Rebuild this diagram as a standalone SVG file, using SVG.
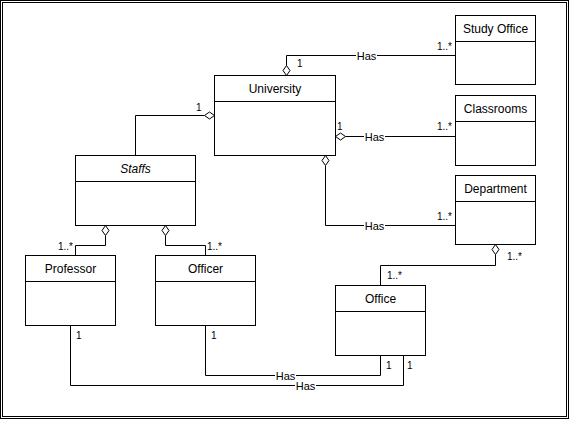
<svg xmlns="http://www.w3.org/2000/svg" width="571" height="421" viewBox="0 0 571 421">
<style>
.cls{fill:#fff;stroke:#000;stroke-width:1}
.hd{stroke:#000;stroke-width:1}
.name{font-family:"Liberation Sans",Arial,sans-serif;font-size:12px;fill:#000;text-anchor:middle}
.edge{fill:none;stroke:#000;stroke-width:1}
.dia{fill:#fff;stroke:#000;stroke-width:1}
.lbl{font-family:"Liberation Sans",Arial,sans-serif;font-size:11px;fill:#000;text-anchor:middle}
.m{font-family:"Liberation Sans",Arial,sans-serif;font-size:10px;fill:#000}
.bg{fill:#fff}
</style>
<rect x="0" y="0" width="571" height="421" fill="#fff"/>
<rect x="0.5" y="0.5" width="568" height="418" fill="none" stroke="#000"/>
<rect x="2.5" y="2.5" width="564" height="414" fill="none" stroke="#000"/>

<g id="connectors">
  <!-- University - Study Office -->
  <path class="edge" d="M286.5,65.5 V55.5 H455.5"/>
  <path class="dia" d="M286.5,75.5 L290,70.5 L286.5,65.5 L283,70.5 Z"/>
  <rect class="bg" x="356" y="50" width="21" height="11"/>
  <text class="lbl" x="366.5" y="59.5">Has</text>
  <text class="m" x="297" y="67">1</text>
  <text class="m" x="452" y="50" text-anchor="end">1..*</text>

  <!-- University - Classrooms -->
  <path class="edge" d="M345.5,136.5 H455.5"/>
  <path class="dia" d="M335.5,136.5 L340.5,133 L345.5,136.5 L340.5,140 Z"/>
  <rect class="bg" x="364" y="131" width="21" height="11"/>
  <text class="lbl" x="374.5" y="140.5">Has</text>
  <text class="m" x="337" y="130">1</text>
  <text class="m" x="452" y="130" text-anchor="end">1..*</text>

  <!-- University - Department -->
  <path class="edge" d="M325.5,165.5 V225.5 H455.5"/>
  <path class="dia" d="M325.5,155.5 L329,160.5 L325.5,165.5 L322,160.5 Z"/>
  <rect class="bg" x="364" y="220" width="21" height="11"/>
  <text class="lbl" x="374.5" y="229.5">Has</text>
  <text class="m" x="452" y="220" text-anchor="end">1..*</text>

  <!-- University - Staffs -->
  <path class="edge" d="M204.5,115.5 H135.5 V155.5"/>
  <path class="dia" d="M214.5,115.5 L209.5,112 L204.5,115.5 L209.5,119 Z"/>
  <text class="m" x="196" y="111">1</text>

  <!-- Department - Office -->
  <path class="edge" d="M495.5,254.5 V265.5 H380.5 V285.5"/>
  <path class="dia" d="M495.5,244.5 L499,249.5 L495.5,254.5 L492,249.5 Z"/>
  <text class="m" x="507" y="260">1..*</text>
  <text class="m" x="387" y="279">1..*</text>

  <!-- Staffs - Professor -->
  <path class="edge" d="M105.5,235.5 V245.5 H75.5 V255.5"/>
  <path class="dia" d="M105.5,225.5 L109,230.5 L105.5,235.5 L102,230.5 Z"/>
  <text class="m" x="73" y="250" text-anchor="end">1..*</text>

  <!-- Staffs - Officer -->
  <path class="edge" d="M165.5,235.5 V245.5 H205.5 V255.5"/>
  <path class="dia" d="M165.5,225.5 L169,230.5 L165.5,235.5 L162,230.5 Z"/>
  <text class="m" x="207" y="250">1..*</text>

  <!-- Professor - Office -->
  <path class="edge" d="M70.5,325.5 V385.5 H403.5 V355.5"/>
  <rect class="bg" x="295" y="380" width="21" height="11"/>
  <text class="lbl" x="305.5" y="389.5">Has</text>
  <text class="m" x="76" y="339">1</text>
  <text class="m" x="407" y="369">1</text>

  <!-- Officer - Office -->
  <path class="edge" d="M205.5,325.5 V375.5 H380.5 V355.5"/>
  <rect class="bg" x="275" y="370" width="21" height="11"/>
  <text class="lbl" x="285.5" y="379.5">Has</text>
  <text class="m" x="211" y="339">1</text>
  <text class="m" x="386" y="369">1</text>
</g>

<g id="university">
  <rect class="cls" x="214.5" y="75.5" width="121" height="80"/>
  <line class="hd" x1="214.5" y1="101.5" x2="335.5" y2="101.5"/>
  <text class="name" x="275" y="93">University</text>
</g>
<g id="study-office">
  <rect class="cls" x="455.5" y="15.5" width="80" height="69"/>
  <line class="hd" x1="455.5" y1="41.5" x2="535.5" y2="41.5"/>
  <text class="name" x="495.5" y="33">Study Office</text>
</g>
<g id="classrooms">
  <rect class="cls" x="455.5" y="95.5" width="80" height="70"/>
  <line class="hd" x1="455.5" y1="121.5" x2="535.5" y2="121.5"/>
  <text class="name" x="495.5" y="113">Classrooms</text>
</g>
<g id="department">
  <rect class="cls" x="455.5" y="175.5" width="80" height="69"/>
  <line class="hd" x1="455.5" y1="201.5" x2="535.5" y2="201.5"/>
  <text class="name" x="495.5" y="193">Department</text>
</g>
<g id="staffs">
  <rect class="cls" x="75.5" y="155.5" width="120" height="70"/>
  <line class="hd" x1="75.5" y1="181.5" x2="195.5" y2="181.5"/>
  <text class="name" x="135.5" y="173" font-style="italic">Staffs</text>
</g>
<g id="professor">
  <rect class="cls" x="25.5" y="255.5" width="90" height="70"/>
  <line class="hd" x1="25.5" y1="281.5" x2="115.5" y2="281.5"/>
  <text class="name" x="70.5" y="273">Professor</text>
</g>
<g id="officer">
  <rect class="cls" x="155.5" y="255.5" width="100" height="70"/>
  <line class="hd" x1="155.5" y1="281.5" x2="255.5" y2="281.5"/>
  <text class="name" x="205.5" y="273">Officer</text>
</g>
<g id="office">
  <rect class="cls" x="335.5" y="285.5" width="90" height="70"/>
  <line class="hd" x1="335.5" y1="311.5" x2="425.5" y2="311.5"/>
  <text class="name" x="380.5" y="303">Office</text>
</g>
</svg>
